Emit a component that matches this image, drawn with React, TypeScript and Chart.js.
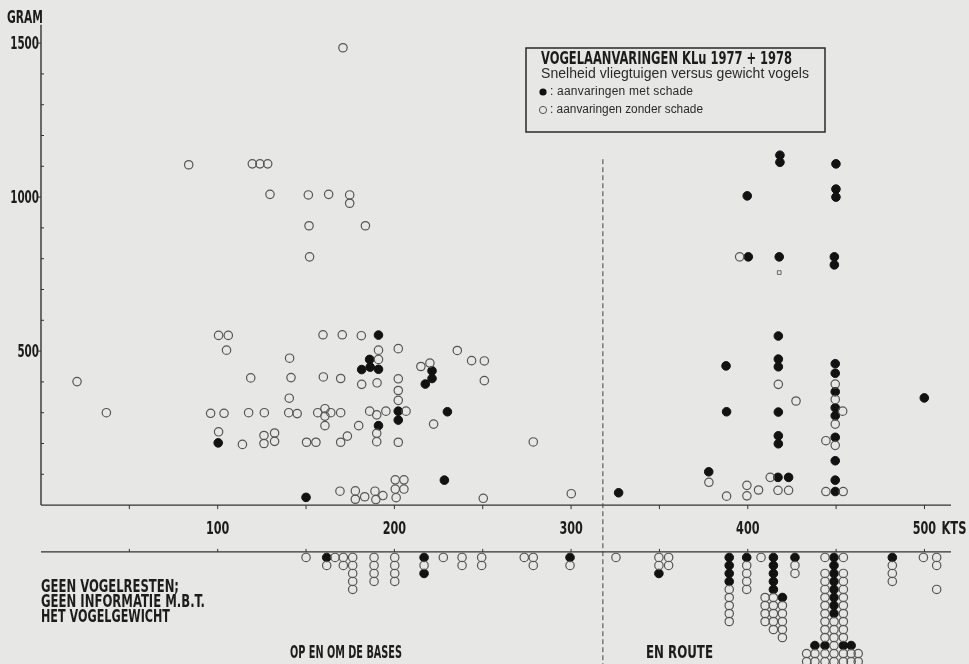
import { useEffect, useRef } from "react";
import { Chart, registerables } from "chart.js";

Chart.register(...registerables);

// ---------- DATA ----------
// speed (kts), bird weight (gram)
const damagePoints: [number, number][] = [
  [100.3, 202], [150, 25],
  [181.5, 440], [186, 473], [186.3, 448], [191, 552], [191, 441], [191, 258],
  [202.2, 305], [202.2, 276],
  [221.3, 436], [221.3, 411], [217.5, 393], [230, 303], [228.3, 81],
  [326.9, 40], [377.9, 108], [387.7, 452], [388, 303],
  [399.7, 1004], [400.3, 806],
  [418.2, 1136], [418.2, 1113], [417.8, 806],
  [417.3, 549], [417.3, 474], [417.3, 449], [417.3, 302], [417.3, 225], [417.3, 199], [417.1, 90], [423.1, 90],
  [449.9, 1108], [449.9, 1026], [449.9, 1000], [449, 806], [449, 780],
  [449.5, 459], [449.5, 428], [449.5, 368], [449.5, 316], [449.5, 290], [449.5, 220], [449.5, 144], [449.5, 81], [449.5, 44],
  [499.9, 348],
];

const noDamagePoints: [number, number][] = [
  [20.4, 401], [37, 300],
  [83.6, 1105], [119.6, 1108], [123.9, 1108], [128.3, 1108],
  [129.6, 1009], [151.3, 1007], [162.8, 1009], [174.7, 1007], [174.7, 980],
  [151.7, 907], [183.6, 907], [170.9, 1485], [152, 806],
  [100.5, 551], [106, 551], [105, 503],
  [96, 298], [103.6, 298], [100.5, 238],
  [114, 197], [117.5, 300], [118.7, 413], [126.4, 300], [126.2, 226], [126.2, 200],
  [132.2, 234], [132.2, 207], [140.2, 300], [145, 297], [140.5, 347], [140.7, 477], [141.5, 414],
  [150.3, 204], [155.6, 204],
  [156.6, 300], [160.7, 313], [160.7, 289], [164, 300], [160.7, 258], [159.8, 416], [159.6, 553],
  [170.5, 553], [169.6, 411], [169.6, 300], [169.6, 204], [173.4, 224], [169.2, 45],
  [177.9, 46], [177.9, 19], [183.2, 27], [181.3, 550],
  [191, 503], [191, 473], [181.5, 392], [190.2, 397], [186, 305], [190, 293], [195.2, 305],
  [179.8, 258], [190, 233], [190, 206], [189, 45], [189.5, 18], [193.5, 31],
  [202.2, 508], [202.2, 410], [202.2, 372], [202.2, 340], [206.6, 305], [202.2, 204],
  [200.5, 82], [205.4, 82], [200.5, 52], [205.4, 52], [201, 24],
  [215, 450], [220.1, 461], [222.2, 263],
  [235.6, 502], [243.7, 469], [250.9, 468], [250.9, 404], [250.3, 22],
  [278.6, 205], [300.1, 37],
  [395.4, 806], [417.3, 392], [412.7, 90], [417.1, 48], [423.1, 48], [427.3, 338],
  [378, 74], [388, 29], [399.5, 64], [399.5, 30], [406.1, 49],
  [449.5, 393], [449.5, 343], [453.7, 305], [449.5, 263], [444.2, 209], [449.5, 194],
  [444.2, 44], [454, 44],
];

const smallMarkPoints: [number, number][] = [[417.8, 755]];

// strikes without bird remains: speed + stack (F = damage, O = no damage, . = empty slot)
const lowerSpeeds = [
  150, 161.7, 166.4, 171.1, 176.4, 188.5, 200.2, 216.8, 227.7, 238.3, 249.4, 273.5, 278.6, 299.4,
  325.4, 349.7, 355.2, 389.5, 399.4, 407.5, 409.8, 414.5, 419.6, 426.7,
  433.3, 438, 443.7, 448.8, 454.1, 458.5, 462.5, 481.8, 499.4, 506.9,
];
const lowerStacks = [
  "O", "FO", "O", "OO", "OOOOO", "OOOO", "OOOO", "FOF", "O", "OO", "OO", "O", "OO", "FO",
  "O", "OOF", "OO", "FFFFOOOOO", "FOOOO", "O", ".....OOOO", "FFFFFOOOOO", ".....FOOOOO", "FOO",
  "............OO", "...........FOO", "O.OOOOOOOOOFOO", "FFFFFFFFOOOOOO", "O.OOOOOOOOOFOO",
  "...........FOO", "............OO", "FOOO", "O", "OO..O",
];

const yTickLabels = [500, 1000, 1500];
const xTickLabels = [100, 200, 300, 400, 500];
const xUnit = "KTS";
const yUnit = "GRAM";
const sectorBoundary = 318;
const sectorLabels = ["OP EN OM DE BASES", "EN ROUTE"];
const legendTitle = "VOGELAANVARINGEN KLu 1977 + 1978";
const legendSubtitle = "Snelheid vliegtuigen versus gewicht vogels";
const legendItems = [": aanvaringen met schade", ": aanvaringen zonder schade"];
const noRemainsNote = ["GEEN VOGELRESTEN;", "GEEN INFORMATIE M.B.T.", "HET VOGELGEWICHT"];

// ---------- LAYOUT CONSTANTS ----------
const X_MIN = -23.2;
const X_MAX = 525.2;
const Y_MIN = -516;
const Y_MAX = 1640;
const AXIS_END = 515;
const Y_AXIS_TOP = 1560;
const LOWER_BASE = -152;
const LOWER_ROW0 = -170;
const LOWER_STEP = 26;

const BG = "#e7e7e5";
const INK = "#1c1c1c";
const NARROW = "'Liberation Sans Narrow', 'DejaVu Sans Condensed', 'Liberation Sans', Arial, sans-serif";
const SANS = "'Liberation Sans', 'DejaVu Sans', Arial, sans-serif";

function lowerPoints(kind: string) {
  const out: { x: number; y: number }[] = [];
  lowerSpeeds.forEach((s, i) => {
    const st = lowerStacks[i];
    for (let r = 0; r < st.length; r++) {
      if (st[r] === kind) out.push({ x: s, y: LOWER_ROW0 - r * LOWER_STEP });
    }
  });
  return out;
}

function fitText(ctx: CanvasRenderingContext2D, text: string, x: number, y: number, width: number) {
  const w = ctx.measureText(text).width;
  if (w > width) {
    ctx.fillText(text, x, y, width);
  } else {
    const sp = (width - w) / Math.max(1, text.length - 1);
    (ctx as any).letterSpacing = sp + "px";
    ctx.fillText(text, x, y);
    (ctx as any).letterSpacing = "0px";
  }
}

const paperPlugin = {
  id: "paper",
  beforeDraw(chart: any) {
    const { ctx, width, height } = chart;
    ctx.save();
    ctx.fillStyle = BG;
    ctx.fillRect(0, 0, width, height);
    ctx.restore();
  },
  beforeDatasetsDraw(chart: any) {
    const { ctx } = chart;
    const xs = chart.scales.x;
    const ys = chart.scales.y;
    const X = (v: number) => xs.getPixelForValue(v);
    const Y = (v: number) => ys.getPixelForValue(v);
    ctx.save();
    ctx.strokeStyle = "#333";
    ctx.fillStyle = INK;
    ctx.lineWidth = 1.4;

    // y axis
    ctx.beginPath();
    ctx.moveTo(X(0), Y(0));
    ctx.lineTo(X(0), Y(Y_AXIS_TOP));
    ctx.stroke();
    ctx.lineWidth = 1;
    for (let v = 100; v <= 1500; v += 100) {
      ctx.beginPath();
      if (yTickLabels.includes(v)) {
        ctx.moveTo(X(0) - 3, Y(v));
        ctx.lineTo(X(0), Y(v));
      } else {
        ctx.moveTo(X(0), Y(v));
        ctx.lineTo(X(0) + 3, Y(v));
      }
      ctx.stroke();
    }
    ctx.font = `bold 17px ${NARROW}`;
    ctx.textBaseline = "middle";
    ctx.textAlign = "right";
    yTickLabels.forEach((v) => {
      const t = String(v);
      ctx.fillText(t, X(0) - 2, Y(v) + 1, t.length * 7.2);
    });
    ctx.textAlign = "left";
    fitText(ctx, yUnit, 7, 19, 36);

    // x axis (upper) and baseline (lower)
    ctx.lineWidth = 1.4;
    [0, LOWER_BASE].forEach((base) => {
      ctx.beginPath();
      ctx.moveTo(X(0), Y(base));
      ctx.lineTo(X(AXIS_END), Y(base));
      ctx.stroke();
    });
    ctx.lineWidth = 1;
    for (let v = 50; v <= 500; v += 50) {
      ctx.beginPath();
      ctx.moveTo(X(v), Y(0));
      ctx.lineTo(X(v), Y(0) + 4);
      ctx.moveTo(X(v), Y(LOWER_BASE));
      ctx.lineTo(X(v), Y(LOWER_BASE) - 3);
      ctx.stroke();
    }
    ctx.font = `bold 17px ${NARROW}`;
    ctx.textAlign = "center";
    const labelY = (Y(0) + Y(LOWER_BASE)) / 2 + 1;
    xTickLabels.forEach((v) => {
      const t = String(v);
      ctx.fillText(t, X(v), labelY, t.length * 7.8);
    });
    ctx.textAlign = "left";
    ctx.fillText(xUnit, X(500) + 17, labelY, 25);

    // sector divider
    ctx.save();
    ctx.setLineDash([5, 3]);
    ctx.strokeStyle = "#444";
    ctx.beginPath();
    ctx.moveTo(X(sectorBoundary), Y(1123));
    ctx.lineTo(X(sectorBoundary), Y(Y_MIN));
    ctx.stroke();
    ctx.restore();

    // notes
    ctx.font = `bold 17px ${NARROW}`;
    ctx.textBaseline = "middle";
    const noteW = [138, 164, 129];
    noRemainsNote.forEach((t, i) => fitText(ctx, t, 41, 588 + i * 15, noteW[i]));
    fitText(ctx, sectorLabels[0], 290, 654, 112);
    fitText(ctx, sectorLabels[1], 646, 654, 67);

    // legend box
    ctx.lineWidth = 1.5;
    ctx.strokeStyle = "#2a2a2a";
    ctx.strokeRect(526, 48, 299, 84);
    ctx.textBaseline = "alphabetic";
    ctx.font = `bold 18px ${NARROW}`;
    fitText(ctx, legendTitle, 541, 64, 251);
    ctx.font = `14px ${SANS}`;
    ctx.fillStyle = "#2a2a2a";
    fitText(ctx, legendSubtitle, 541, 78, 268);
    ctx.font = `12px ${SANS}`;
    ctx.textBaseline = "middle";
    legendItems.forEach((t, i) => {
      const cy = 92 + i * 18;
      ctx.beginPath();
      ctx.arc(543, cy, 3.6, 0, Math.PI * 2);
      if (i === 0) {
        ctx.fillStyle = "#111";
        ctx.fill();
      } else {
        ctx.strokeStyle = "#555";
        ctx.lineWidth = 1;
        ctx.stroke();
      }
      ctx.fillStyle = "#2a2a2a";
      fitText(ctx, t, 550, cy, i === 0 ? 143 : 153);
    });
    ctx.restore();
  },
};

export default function App() {
  const ref = useRef<HTMLCanvasElement | null>(null);
  useEffect(() => {
    if (!ref.current) return;
    const toXY = (p: [number, number]) => ({ x: p[0], y: p[1] });
    const chart = new Chart(ref.current, {
      type: "scatter",
      data: {
        datasets: [
          {
            label: "aanvaringen zonder schade",
            data: [...noDamagePoints.map(toXY), ...lowerPoints("O")],
            pointStyle: "circle",
            pointRadius: 4.2,
            pointBackgroundColor: "rgba(0,0,0,0)",
            pointBorderColor: "#555",
            pointBorderWidth: 1.2,
          },
          {
            label: "klein",
            data: smallMarkPoints.map(toXY),
            pointStyle: "rect",
            pointRadius: 2.6,
            pointBackgroundColor: "rgba(0,0,0,0)",
            pointBorderColor: "#666",
            pointBorderWidth: 1,
          },
          {
            label: "aanvaringen met schade",
            data: [...damagePoints.map(toXY), ...lowerPoints("F")],
            pointStyle: "circle",
            pointRadius: 4.3,
            pointBackgroundColor: "#121212",
            pointBorderColor: "#121212",
            pointBorderWidth: 1,
          },
        ],
      },
      options: {
        animation: false,
        responsive: false,
        events: [],
        layout: { padding: 0, autoPadding: false },
        plugins: { legend: { display: false }, tooltip: { enabled: false }, title: { display: false } },
        scales: {
          x: { type: "linear", min: X_MIN, max: X_MAX, display: false },
          y: { type: "linear", min: Y_MIN, max: Y_MAX, display: false },
        },
      },
      plugins: [paperPlugin],
    });
    return () => chart.destroy();
  }, []);
  return (
    <div style={{ position: "fixed", left: 0, top: 0, width: 969, height: 664, background: BG }}>
      <canvas ref={ref} width={969} height={664} style={{ display: "block", width: 969, height: 664 }} />
    </div>
  );
}
